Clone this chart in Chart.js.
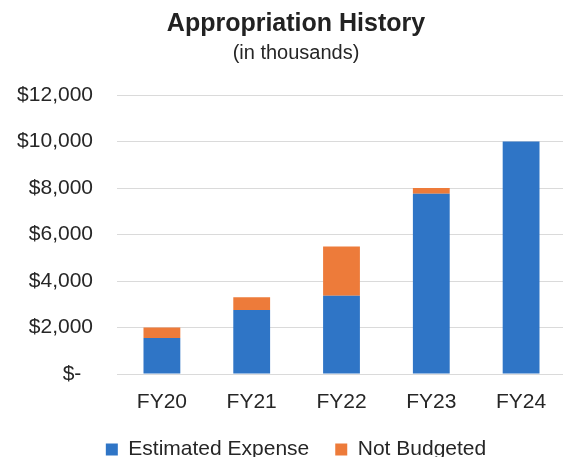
<!DOCTYPE html>
<html>
<head>
<meta charset="utf-8">
<script src="https://cdn.jsdelivr.net/npm/chart.js@4/dist/chart.umd.min.js"></script>
<style>
  html, body { margin: 0; padding: 0; background: #fff; overflow: hidden; }
  #wrap { position: relative; width: 566px; height: 470px; }
</style>
</head>
<body>
<div id="wrap"><canvas id="chart"></canvas></div>
<script>
// Fiscal years and appropriation amounts (in thousands of dollars)
const categories = ['FY20', 'FY21', 'FY22', 'FY23', 'FY24'];
const estimatedExpense = [1550, 2750, 3370, 7750, 10000];
const notBudgeted = [450, 550, 2110, 250, 0];
const yTicks = [0, 2000, 4000, 6000, 8000, 10000, 12000];

const FONT = "'Liberation Sans', Arial, Helvetica, sans-serif";
const TEXT = '#262626';

function money(v) {
  if (v === 0) return '$-  ';
  return '$' + v.toLocaleString('en-US');
}

// Center the title, subtitle and legend over the region right of x = 26
// while the value axis keeps the full left margin for its labels.
const centerBlocks = {
  id: 'centerBlocks',
  afterLayout(chart) {
    chart.boxes.forEach(box => {
      if (box.axis === undefined && box.left !== undefined) {
        box.left += 26;
      }
    });
  }
};

new Chart(document.getElementById('chart'), {
  type: 'bar',
  data: {
    labels: categories,
    datasets: [
      { label: 'Estimated Expense', data: estimatedExpense, backgroundColor: '#2F75C6' },
      { label: 'Not Budgeted', data: notBudgeted, backgroundColor: '#ED7B3A' }
    ]
  },
  plugins: [centerBlocks],
  options: {
    responsive: true,
    maintainAspectRatio: false,
    animation: false,
    devicePixelRatio: 1,
    layout: { padding: 0 },
    datasets: { bar: { categoryPercentage: 1, barPercentage: 0.41 } },
    plugins: {
      title: {
        display: true,
        text: 'Appropriation History',
        color: '#222',
        font: { family: FONT, size: 25, weight: 'bold' },
        padding: { top: 9, bottom: 0 }
      },
      subtitle: {
        display: true,
        text: '(in thousands)',
        color: TEXT,
        font: { family: FONT, size: 20 },
        padding: { top: 2, bottom: 30 }
      },
      legend: {
        position: 'bottom',
        labels: {
          color: TEXT,
          font: { family: FONT, size: 21 },
          boxWidth: 12,
          boxHeight: 12,
          padding: 26
        }
      },
      tooltip: { enabled: false }
    },
    scales: {
      x: {
        stacked: true,
        grid: { display: false },
        border: { display: false },
        ticks: { color: TEXT, font: { family: FONT, size: 21 }, padding: 8 },
        afterFit(scale) { scale.height = 39; }
      },
      y: {
        stacked: true,
        min: 0,
        max: 12000,
        afterBuildTicks(scale) { scale.ticks = yTicks.map(v => ({ value: v })); },
        grid: { color: '#dadada', lineWidth: 1, drawTicks: false },
        border: { display: false },
        ticks: {
          color: TEXT,
          font: { family: FONT, size: 21 },
          padding: 24,
          callback: v => money(v)
        },
        afterFit(scale) { scale.width = 117; }
      }
    }
  }
});
</script>
</body>
</html>
